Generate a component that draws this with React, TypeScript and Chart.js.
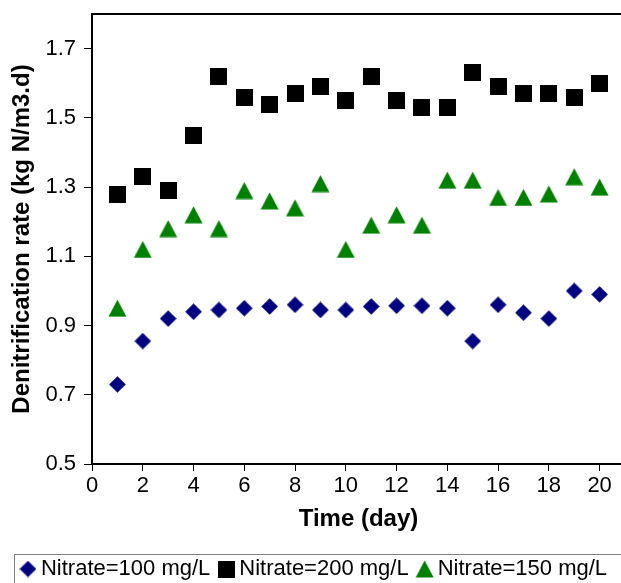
import React, { useEffect, useRef } from 'react';
import { Chart, registerables } from 'chart.js';

Chart.register(...registerables);

const days = [1, 2, 3, 4, 5, 6, 7, 8, 9, 10, 11, 12, 13, 14, 15, 16, 17, 18, 19, 20];
const nitrate100 = [0.73, 0.855, 0.92, 0.94, 0.945, 0.95, 0.955, 0.96, 0.945, 0.945, 0.955, 0.957, 0.957, 0.95, 0.855, 0.96, 0.937, 0.92, 1.0, 0.99];
const nitrate200 = [1.28, 1.33, 1.29, 1.45, 1.62, 1.56, 1.54, 1.57, 1.59, 1.55, 1.62, 1.55, 1.53, 1.53, 1.63, 1.59, 1.57, 1.57, 1.56, 1.6];
const nitrate150 = [0.95, 1.12, 1.18, 1.22, 1.18, 1.29, 1.26, 1.24, 1.31, 1.12, 1.19, 1.22, 1.19, 1.32, 1.32, 1.27, 1.27, 1.28, 1.33, 1.3];

const seriesLabels = ['Nitrate=100 mg/L', 'Nitrate=200 mg/L', 'Nitrate=150 mg/L'];
const seriesColors = ['#000080', '#000000', '#008000'];
const seriesShapes = ['diamond', 'square', 'triangle'];

const xTickValues = [0, 2, 4, 6, 8, 10, 12, 14, 16, 18, 20];
const yTickValues = [0.5, 0.7, 0.9, 1.1, 1.3, 1.5, 1.7];
const xAxisTitle = 'Time (day)';
const yAxisTitle = 'Denitrification rate (kg N/m3.d)';

const FONT = "'Liberation Sans', Arial, Helvetica, sans-serif";

function makeMarker(shape: string, color: string): HTMLCanvasElement {
  const c = document.createElement('canvas');
  if (shape === 'diamond') {
    c.width = 17; c.height = 17;
  } else if (shape === 'square') {
    c.width = 17; c.height = 17;
  } else {
    c.width = 19; c.height = 18;
  }
  const ctx = c.getContext('2d')!;
  ctx.fillStyle = color;
  ctx.beginPath();
  if (shape === 'diamond') {
    ctx.moveTo(8.5, 0.2);
    ctx.lineTo(16.8, 8.5);
    ctx.lineTo(8.5, 16.8);
    ctx.lineTo(0.2, 8.5);
  } else if (shape === 'square') {
    ctx.rect(0, 0, 17, 17);
  } else {
    ctx.moveTo(9.5, 0.5);
    ctx.lineTo(18.5, 17.5);
    ctx.lineTo(0.5, 17.5);
  }
  ctx.closePath();
  ctx.fill();
  return c;
}

const framePlugin = {
  id: 'framePlugin',
  afterDraw(chart: any) {
    const { ctx, chartArea: a, legend } = chart;
    ctx.save();
    ctx.strokeStyle = '#000';
    ctx.lineWidth = 2;
    ctx.beginPath();
    ctx.moveTo(a.left, a.top);
    ctx.lineTo(a.right, a.top);
    ctx.lineTo(a.right, a.bottom);
    ctx.stroke();
    if (legend) {
      ctx.lineWidth = 1;
      ctx.strokeStyle = '#808080';
      ctx.strokeRect(14.5, Math.round(legend.top) + 10.5, chart.width, 100);
    }
    ctx.restore();
  },
};

export default function App() {
  const ref = useRef<HTMLCanvasElement>(null);

  useEffect(() => {
    document.documentElement.style.overflow = 'hidden';
    document.body.style.overflow = 'hidden';
    const values = [nitrate100, nitrate200, nitrate150];
    const datasets = values.map((vals, i) => ({
      label: seriesLabels[i],
      data: days.map((d, j) => ({ x: d, y: vals[j] })),
      pointStyle: makeMarker(seriesShapes[i], seriesColors[i]),
      pointRadius: 8,
      backgroundColor: seriesColors[i],
      borderColor: seriesColors[i],
      showLine: false,
    }));

    const chart = new Chart(ref.current!, {
      type: 'scatter',
      data: { datasets },
      plugins: [framePlugin],
      options: {
        animation: false,
        responsive: false,
        devicePixelRatio: 1,
        events: [],
        layout: { padding: { left: 8, top: 14, right: 15, bottom: 10 } },
        plugins: {
          tooltip: { enabled: false },
          legend: {
            display: true,
            position: 'bottom',
            labels: {
              usePointStyle: true,
              boxWidth: 4,
              padding: 14,
              color: '#000',
              font: { family: FONT, size: 22 },
            },
          },
        },
        scales: {
          x: {
            type: 'linear',
            min: 0,
            max: 21,
            afterBuildTicks: (s: any) => {
              s.ticks = xTickValues.map((v) => ({ value: v }));
            },
            afterFit: (s: any) => {
              s.height = 80;
              s.paddingLeft = 0;
              s.paddingRight = 0;
            },
            grid: {
              display: true,
              drawOnChartArea: false,
              drawTicks: true,
              tickLength: 7,
              color: '#000',
              lineWidth: 1,
            },
            border: { display: true, color: '#000', width: 2 },
            ticks: {
              color: '#000',
              font: { family: FONT, size: 22 },
              padding: 2,
              maxRotation: 0,
              autoSkip: false,
              callback: (v: any) => String(v),
            },
            title: {
              display: true,
              text: xAxisTitle,
              color: '#000',
              font: { family: FONT, size: 24, weight: 'bold' },
              padding: { top: 0, bottom: 10 },
            },
          },
          y: {
            type: 'linear',
            min: 0.5,
            max: 1.8,
            afterBuildTicks: (s: any) => {
              s.ticks = yTickValues.map((v) => ({ value: v }));
            },
            afterFit: (s: any) => {
              s.width = 84;
              s.paddingTop = 0;
              s.paddingBottom = 0;
            },
            grid: {
              display: true,
              drawOnChartArea: false,
              drawTicks: true,
              tickLength: 8,
              color: '#000',
              lineWidth: 1,
            },
            border: { display: true, color: '#000', width: 2 },
            ticks: {
              color: '#000',
              font: { family: FONT, size: 22 },
              padding: 8,
              autoSkip: false,
              callback: (v: any) => Number(v).toFixed(1),
            },
            title: {
              display: true,
              text: yAxisTitle,
              color: '#000',
              font: { family: FONT, size: 24, weight: 'bold' },
              padding: { top: 0, bottom: 0 },
            },
          },
        },
      },
    } as any);

    return () => chart.destroy();
  }, []);

  return (
    <div style={{ position: 'absolute', left: 0, top: 0, width: 640, height: 600 }}>
      <canvas ref={ref} width={640} height={600} style={{ display: 'block' }} />
    </div>
  );
}
